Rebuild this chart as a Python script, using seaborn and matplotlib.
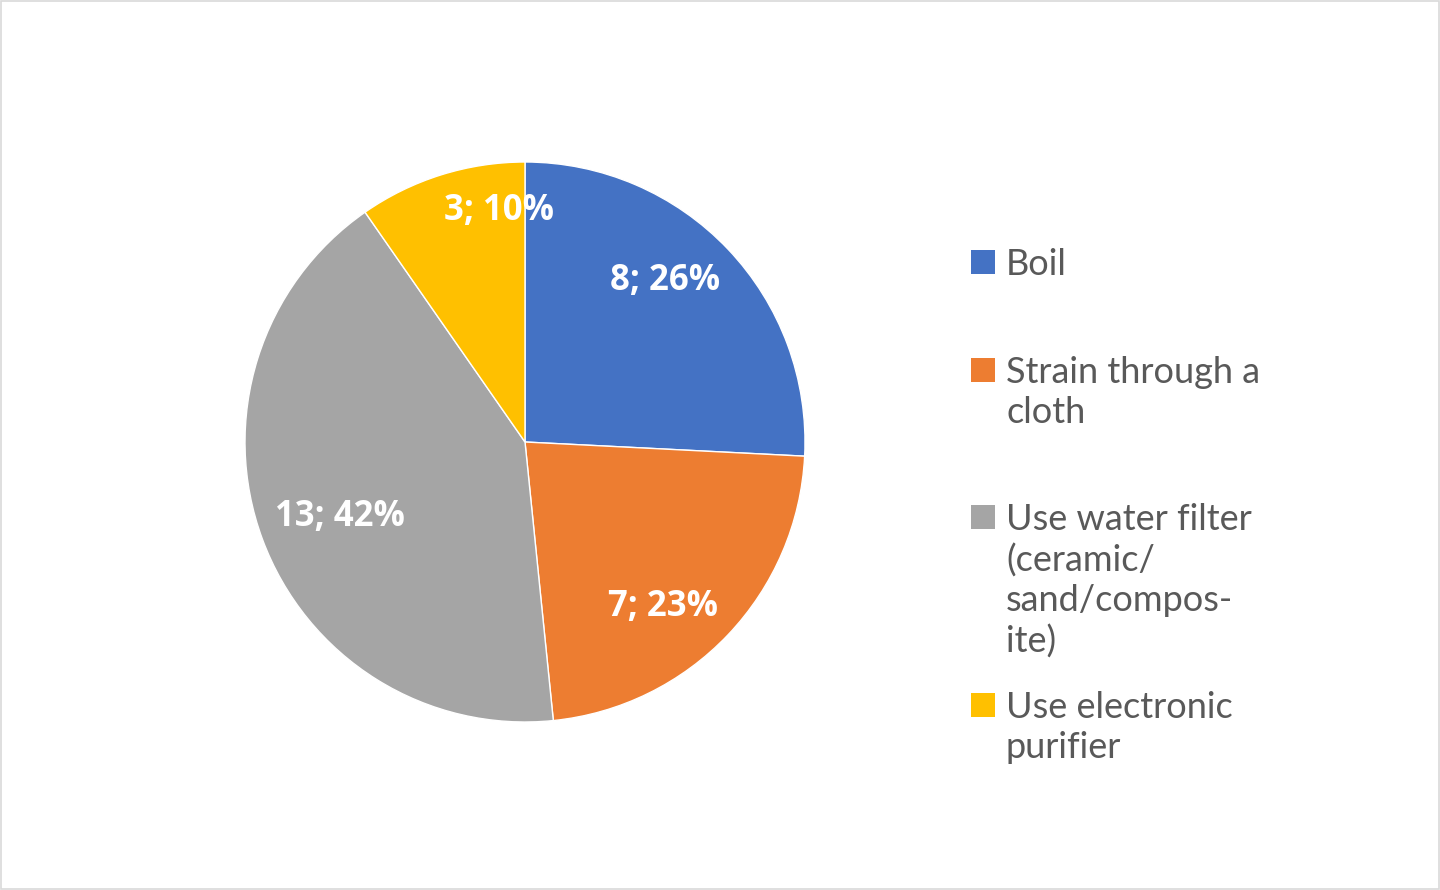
import matplotlib.pyplot as plt
import seaborn as sns
import numpy as np
from matplotlib.patches import Rectangle

categories = ['Boil', 'Strain through a cloth', 'Use water filter (ceramic/sand/composite)', 'Use electronic purifier']
counts = [8, 7, 13, 3]
legend_labels = ['Boil', 'Strain through a\ncloth', 'Use water filter\n(ceramic/\nsand/compos-\nite)', 'Use electronic\npurifier']
colors = ['#4472C4', '#ED7D31', '#A5A5A5', '#FFC000']

sns.set_theme(style='white')
plt.rcParams['font.family'] = ['Lato', 'DejaVu Sans']

fig = plt.figure(figsize=(14.4, 8.9), dpi=100)
fig.patches.append(Rectangle((0.0005, 0.0008), 0.999, 0.998, transform=fig.transFigure,
                             fill=False, edgecolor='#D9D9D9', linewidth=1.2))

# pie area: center (525, 442) px, radius 280 px
ax = fig.add_axes([(525 - 280) / 1440, (890 - 442 - 280) / 890, 560 / 1440, 560 / 890])
wedges, _ = ax.pie(counts, colors=colors, startangle=90, counterclock=False,
                   wedgeprops=dict(edgecolor='white', linewidth=1))
ax.set_xlim(-1, 1)
ax.set_ylim(-1, 1)
ax.set_aspect('equal')

total = sum(counts)
label_r = [0.77, 0.76, 0.71, 0.84]
angle_shift = [6, -6, 1, -11]
for w, c, r, s in zip(wedges, counts, label_r, angle_shift):
    mid = np.deg2rad((w.theta1 + w.theta2) / 2 + s)
    ax.text(r * np.cos(mid), r * np.sin(mid) - 0.011, f'{c}; {round(100 * c / total)}%',
            ha='center', va='center', color='white', fontsize=25, fontweight='bold',
            family=['Open Sans', 'DejaVu Sans'])

# legend drawn manually so the square lines up with the first text line
legend_y = [262, 370, 517, 705]
for lab, col, y in zip(legend_labels, colors, legend_y):
    fig.patches.append(Rectangle((971 / 1440, 1 - (y + 12) / 890), 24 / 1440, 24 / 890,
                                 transform=fig.transFigure, facecolor=col, edgecolor='none'))
    fig.text(1006 / 1440, 1 - (y - 14) / 890, lab, ha='left', va='top', color='#595959',
             fontsize=26, linespacing=1.26)

fig.savefig('out.png', dpi=100)
